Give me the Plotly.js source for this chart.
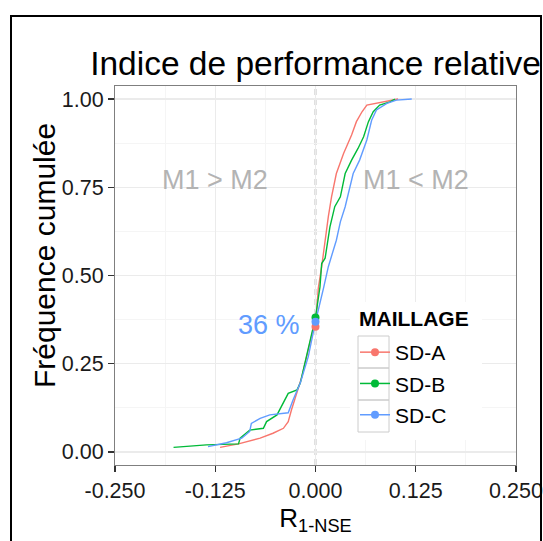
<!DOCTYPE html>
<html>
<head>
<meta charset="utf-8">
<script src="https://cdn.plot.ly/plotly-3.0.1.min.js"></script>
<style>html,body{margin:0;padding:0;background:#fff;}#chart{width:543px;height:541px;}</style>
</head>
<body>
<div id="chart"></div>
<script>
// ---- Data ----
const seriesNames = ['SD-A', 'SD-B', 'SD-C'];
const seriesColors = ['#F8766D', '#00BA38', '#619CFF'];

const sdA_x = [-0.119, -0.096, -0.069, -0.053, -0.040, -0.034, -0.030, -0.023, -0.017, -0.011, -0.003, 0.000, 0.0035, 0.0077, 0.012, 0.016, 0.020, 0.026, 0.035, 0.045, 0.051, 0.058, 0.064, 0.080, 0.093, 0.103];
const sdA_y = [0.013, 0.023, 0.039, 0.053, 0.067, 0.086, 0.119, 0.166, 0.213, 0.270, 0.346, 0.355, 0.464, 0.525, 0.600, 0.667, 0.723, 0.789, 0.846, 0.898, 0.936, 0.964, 0.983, 0.990, 0.997, 1.000];

const sdB_x = [-0.177, -0.136, -0.096, -0.094, -0.082, -0.065, -0.061, -0.048, -0.034, -0.023, -0.019, -0.011, 0.000, 0.0056, 0.0077, 0.012, 0.018, 0.024, 0.031, 0.037, 0.045, 0.053, 0.060, 0.066, 0.072, 0.080, 0.093, 0.099];
const sdB_y = [0.013, 0.020, 0.023, 0.039, 0.062, 0.067, 0.086, 0.105, 0.166, 0.176, 0.195, 0.270, 0.381, 0.468, 0.534, 0.549, 0.638, 0.695, 0.723, 0.789, 0.827, 0.860, 0.893, 0.936, 0.964, 0.983, 0.992, 1.000];

const sdC_x = [-0.134, -0.111, -0.092, -0.082, -0.080, -0.069, -0.057, -0.034, -0.028, -0.019, -0.009, 0.000, 0.010, 0.016, 0.026, 0.031, 0.037, 0.041, 0.047, 0.055, 0.064, 0.070, 0.076, 0.089, 0.101, 0.120];
const sdC_y = [0.015, 0.026, 0.039, 0.058, 0.081, 0.095, 0.105, 0.111, 0.147, 0.195, 0.270, 0.369, 0.464, 0.525, 0.600, 0.652, 0.695, 0.733, 0.789, 0.827, 0.884, 0.940, 0.969, 0.988, 0.997, 1.000];

// cumulative frequency at R = 0 for each series
const zeroX = [0, 0, 0];
const zeroY = [0.355, 0.381, 0.369];

const xTickVals = [-0.25, -0.125, 0, 0.125, 0.25];
const xTickText = ['-0.250', '-0.125', '0.000', '0.125', '0.250'];
const yTickVals = [0, 0.25, 0.5, 0.75, 1];
const yTickText = ['0.00', '0.25', '0.50', '0.75', '1.00'];
const xMinorVals = [-0.1875, -0.0625, 0.0625, 0.1875];
const yMinorVals = [0.125, 0.375, 0.625, 0.875];

const regionLabels = ['M1 > M2', 'M1 < M2'];
const regionX = [-0.125, 0.125];
const regionY = [0.77, 0.77];
const pctLabel = '36 %';
const pctX = -0.058;
const pctY = 0.36;
const legendTitle = 'MAILLAGE';
const yTitle = 'Fréquence cumulée';

// ---- Build traces ----
const FONT = 'Liberation Sans, Arial, sans-serif';
const xs = [sdA_x, sdB_x, sdC_x];
const ys = [sdA_y, sdB_y, sdC_y];
const traces = [];
for (let i = 0; i < 3; i++) {
  traces.push({
    type: 'scatter', mode: 'lines', x: xs[i], y: ys[i],
    line: {color: seriesColors[i], width: 1.4},
    showlegend: false, hoverinfo: 'skip'
  });
}
for (let i = 0; i < 3; i++) {
  traces.push({
    type: 'scatter', mode: 'lines+markers', x: [zeroX[i]], y: [zeroY[i]],
    name: seriesNames[i], legendgroup: 'g' + i,
    line: {color: seriesColors[i], width: 1.5},
    marker: {color: seriesColors[i], size: 8},
    showlegend: true
  });
}

// paper-coordinate helpers for decoration placement (pixels of the 543x541 figure)
const PL = 115, PR = 516, PT = 86, PB = 465;
const px2x = p => (p - PL) / (PR - PL);
const py2y = p => (PB - p) / (PB - PT);

const annotations = [];
for (let i = 0; i < regionLabels.length; i++) {
  annotations.push({x: regionX[i], y: regionY[i], xref: 'x', yref: 'y', text: regionLabels[i],
    showarrow: false, font: {family: FONT, size: 27, color: '#b3b3b3'}});
}
annotations.push({x: pctX, y: pctY, xref: 'x', yref: 'y', text: pctLabel, showarrow: false,
  font: {family: FONT, size: 27, color: '#619CFF'}});
annotations.push({x: px2x(357), y: py2y(318), xref: 'paper', yref: 'paper', xanchor: 'left', yanchor: 'middle',
  text: '<b>' + legendTitle + '</b>', showarrow: false, font: {family: FONT, size: 21, color: '#000'}});
annotations.push({x: px2x(44), y: py2y(256), xref: 'paper', yref: 'paper', xanchor: 'center', yanchor: 'middle',
  text: yTitle, textangle: -90, showarrow: false, font: {family: FONT, size: 30, color: '#000'}});

const shapes = [
  {type: 'line', xref: 'x', yref: 'paper', x0: 0, x1: 0, y0: 0, y1: 1,
    line: {color: '#999999', width: 1.6, dash: '6px,4px'}, layer: 'between'},
  // legend background
  {type: 'rect', xref: 'paper', yref: 'paper', x0: px2x(350), x1: px2x(482), y0: py2y(440), y1: py2y(302),
    line: {width: 0}, fillcolor: '#ffffff', layer: 'above'},
  // outer frame
  {type: 'rect', xref: 'paper', yref: 'paper', x0: px2x(11), x1: px2x(541), y0: -0.4, y1: py2y(16),
    line: {color: '#000', width: 2}, fillcolor: 'rgba(0,0,0,0)'}
];
const keyTops = [336, 368, 400];
for (const t of keyTops) {
  shapes.push({type: 'rect', xref: 'paper', yref: 'paper', x0: px2x(358), x1: px2x(389), y0: py2y(t + 32), y1: py2y(t),
    line: {color: '#cccccc', width: 1}, fillcolor: 'rgba(0,0,0,0)', layer: 'above'});
}

const layout = {
  width: 543, height: 541,
  margin: {l: PL, r: 543 - PR, t: PT, b: 541 - PB},
  paper_bgcolor: '#ffffff', plot_bgcolor: '#ffffff',
  font: {family: FONT, color: '#000'},
  title: {text: 'Indice de performance relative', font: {family: FONT, size: 33.5, color: '#000'},
    x: 0.5, xref: 'paper', xanchor: 'center', y: 1 - 63 / 541, yref: 'container', yanchor: 'middle'},
  xaxis: {
    range: [-0.25, 0.25], tickvals: xTickVals, ticktext: xTickText,
    ticks: 'outside', ticklen: 6, tickwidth: 1.2, tickcolor: '#333',
    tickfont: {family: FONT, size: 21.5, color: '#1a1a1a'},
    showgrid: true, gridcolor: '#ebebeb', gridwidth: 1.2, zeroline: false,
    showline: true, mirror: true, linecolor: '#7f7f7f', linewidth: 1,
    minor: {tickvals: xMinorVals, showgrid: true, gridcolor: '#f5f5f5', gridwidth: 1, ticks: ''},
    title: {text: 'R<sub>1-NSE</sub>', font: {family: FONT, size: 26, color: '#000'}, standoff: 3}
  },
  yaxis: {
    range: [-0.037, 1.037], tickvals: yTickVals, ticktext: yTickText,
    ticks: 'outside', ticklen: 6, tickwidth: 1.2, tickcolor: '#333',
    tickfont: {family: FONT, size: 21.5, color: '#1a1a1a'},
    showgrid: true, gridcolor: '#ebebeb', gridwidth: 1.2, zeroline: false,
    showline: true, mirror: true, linecolor: '#7f7f7f', linewidth: 1,
    minor: {tickvals: yMinorVals, showgrid: true, gridcolor: '#f5f5f5', gridwidth: 1, ticks: ''}
  },
  legend: {
    x: px2x(355), y: py2y(332), xanchor: 'left', yanchor: 'top',
    bgcolor: 'rgba(0,0,0,0)', borderwidth: 0,
    font: {family: FONT, size: 21, color: '#000'},
    itemwidth: 30, tracegroupgap: 1
  },
  shapes: shapes,
  annotations: annotations
};

Plotly.newPlot('chart', traces, layout, {displayModeBar: false, staticPlot: true});
</script>
</body>
</html>
